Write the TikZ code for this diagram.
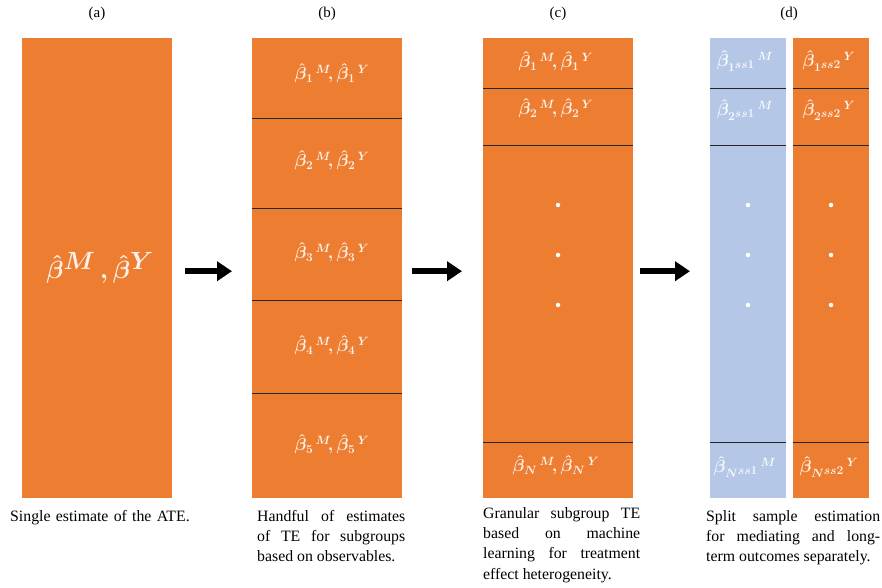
\documentclass[tikz,border=0pt]{standalone}
\usepackage{fontspec}
\setmainfont{Liberation Serif}
\usetikzlibrary{arrows.meta}
\definecolor{ofor}{HTML}{ED7D31}
\definecolor{ofbl}{HTML}{B4C7E7}
\hyphenpenalty=10000
\tikzset{
  panel/.style={fill=ofor, draw=none, anchor=north west, minimum width=150pt, minimum height=460pt, inner sep=0pt},
  halfpanel/.style={panel, minimum width=76pt},
  sep/.style={draw=black!85, line width=0.9pt},
  mlab/.style={text=white, text opacity=0.9, font=\fontsize{17.5}{21}\selectfont\boldmath, inner sep=0pt},
  ttl/.style={font=\fontsize{15}{17}\selectfont, inner sep=0pt},
  captxt/.style={font=\fontsize{15.8}{20.3}\selectfont, align=justify, anchor=north west, inner sep=0pt},
  bigarrow/.style={line width=6.5pt, -{Triangle[length=15pt,width=19pt]}},
  wdot/.style={circle, fill=white, inner sep=0pt, minimum size=4.5pt}
}
\begin{document}
\begin{tikzpicture}[x=1pt,y=-1pt]
\useasboundingbox (0,0) rectangle (882,587);
% titles
\node[ttl] (ta) at (97,14) {(a)};
\node[ttl] (tb) at (327,14) {(b)};
\node[ttl] (tc) at (558,14) {(c)};
\node[ttl] (td) at (789,14) {(d)};
% panels
\node[panel] (A) at (22,38) {};
\node[panel] (B) at (252,38) {};
\node[panel] (C) at (483,38) {};
\node[halfpanel, fill=ofbl] (D1) at (710,38) {};
\node[halfpanel] (D2) at (793,38) {};
% panel a label
\node[mlab, font=\fontsize{46}{50}\selectfont\boldmath] (la) at (100,268) {$\hat{\beta}^{M}\,,\hat{\beta}^{Y}$};
% panel b
\draw[sep] (252,118) -- (402,118);
\draw[sep] (252,208) -- (402,208);
\draw[sep] (252,300) -- (402,300);
\draw[sep] (252,393) -- (402,393);
\node[mlab] (b1) at (332,73) {$\hat{\beta}_1{}^{\,M}\!,\hat{\beta}_1{}^{\,Y}$};
\node[mlab] (b2) at (332,160) {$\hat{\beta}_2{}^{\,M}\!,\hat{\beta}_2{}^{\,Y}$};
\node[mlab] (b3) at (332,252) {$\hat{\beta}_3{}^{\,M}\!,\hat{\beta}_3{}^{\,Y}$};
\node[mlab] (b4) at (332,345) {$\hat{\beta}_4{}^{\,M}\!,\hat{\beta}_4{}^{\,Y}$};
\node[mlab] (b5) at (332,444) {$\hat{\beta}_5{}^{\,M}\!,\hat{\beta}_5{}^{\,Y}$};
% panel c
\draw[sep] (483,88) -- (633,88);
\draw[sep] (483,145) -- (633,145);
\draw[sep] (483,442) -- (633,442);
\node[mlab] (c1) at (556,61) {$\hat{\beta}_1{}^{\,M}\!,\hat{\beta}_1{}^{\,Y}$};
\node[mlab] (c2) at (556,108) {$\hat{\beta}_2{}^{\,M}\!,\hat{\beta}_2{}^{\,Y}$};
\node[mlab] (cN) at (556,465) {$\hat{\beta}_N{}^{\,M}\!,\hat{\beta}_N{}^{\,Y}$};
\node[wdot] (cd1) at (558,205) {};
\node[wdot] (cd2) at (558,255) {};
\node[wdot] (cd3) at (558,305) {};
% panel d
\draw[sep] (710,88) -- (786,88);
\draw[sep] (710,145) -- (786,145);
\draw[sep] (710,442) -- (786,442);
\draw[sep] (793,88) -- (869,88);
\draw[sep] (793,145) -- (869,145);
\draw[sep] (793,442) -- (869,442);
\node[mlab] (d11) at (745,61) {$\hat{\beta}_{1^{\scriptstyle ss1}}{}^{\,M}$};
\node[mlab] (d12) at (745,110) {$\hat{\beta}_{2^{\scriptstyle ss1}}{}^{\,M}$};
\node[mlab] (d1N) at (745,467) {$\hat{\beta}_{N^{\scriptstyle ss1}}{}^{\,M}$};
\node[mlab] (d21) at (829,61) {$\hat{\beta}_{1^{\scriptstyle ss2}}{}^{\,Y}$};
\node[mlab] (d22) at (829,110) {$\hat{\beta}_{2^{\scriptstyle ss2}}{}^{\,Y}$};
\node[mlab] (d2N) at (829,467) {$\hat{\beta}_{N^{\scriptstyle ss2}}{}^{\,Y}$};
\node[wdot] (dd1) at (748,205) {};
\node[wdot] (dd2) at (748,255) {};
\node[wdot] (dd3) at (748,305) {};
\node[wdot] (de1) at (831,205) {};
\node[wdot] (de2) at (831,255) {};
\node[wdot] (de3) at (831,305) {};
% arrows
\draw[bigarrow] ([xshift=13pt,yshift=-3pt]A.east) -- ([xshift=-20pt,yshift=-3pt]B.west);
\draw[bigarrow] ([xshift=10pt,yshift=-3pt]B.east) -- ([xshift=-21pt,yshift=-3pt]C.west);
\draw[bigarrow] ([xshift=7pt,yshift=-3pt]C.east) -- ([xshift=-20pt,yshift=-3pt]D1.west);
% captions
\node[captxt, text width=200pt, align=left] (ka) at (10,510) {Single estimate of the ATE.};
\node[captxt, text width=148pt] (kb) at (257,510) {Handful of estimates\linebreak of TE for subgroups\linebreak based on observables.};
\node[captxt, text width=157pt] (kc) at (483,507) {Granular subgroup TE\linebreak based on machine\linebreak learning for treatment\linebreak effect heterogeneity.};
\node[captxt, text width=174pt] (kd) at (706,510) {Split sample estimation\linebreak for mediating and long-\linebreak term outcomes separately.};
\end{tikzpicture}
\end{document}
